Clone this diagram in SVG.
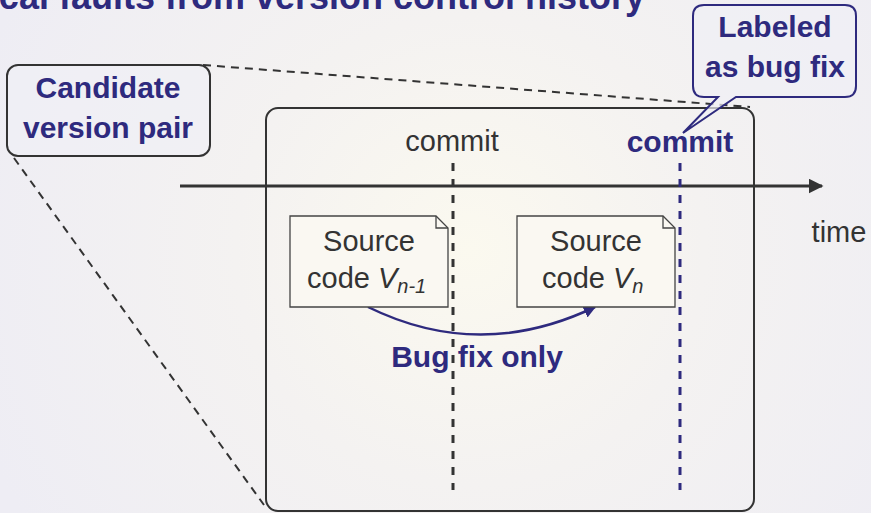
<svg xmlns="http://www.w3.org/2000/svg" width="871" height="513" viewBox="0 0 871 513">
<defs>
<radialGradient id="bg" cx="470" cy="250" r="520" gradientUnits="userSpaceOnUse">
<stop offset="0" stop-color="#fbf9ef"/>
<stop offset="0.45" stop-color="#f4f2f1"/>
<stop offset="1" stop-color="#eeedf4"/>
</radialGradient>
<marker id="ahBlack" viewBox="0 0 10 10" refX="9" refY="5" markerWidth="5" markerHeight="5" orient="auto" markerUnits="strokeWidth">
<path d="M0,0 L10,5 L0,10 Z" fill="#333"/>
</marker>
<marker id="ahBlue" viewBox="0 0 10 10" refX="9" refY="5" markerWidth="5" markerHeight="5" orient="auto" markerUnits="strokeWidth">
<path d="M0,0 L10,5 L0,10 Z" fill="#2e2a7e"/>
</marker>
<style>
.bold{font-family:"Liberation Sans",Arial,sans-serif;font-weight:bold;font-size:30px;fill:#2e2a7e}
.reg{font-family:"Liberation Sans",Arial,sans-serif;font-size:29px;fill:#333}
.doc{fill:#faf8f2;stroke:#444;stroke-width:1.3}
.zoomline{stroke:#333;stroke-width:2;stroke-dasharray:8 6;fill:none}
</style>
</defs>
<rect width="871" height="513" fill="url(#bg)"/>
<text class="bold" x="645" y="9" font-size="36" text-anchor="end" style="font-size:36px">cal faults from version control history</text>

<g id="connectors">
<line class="zoomline" x1="203" y1="65" x2="750" y2="107"/>
<line class="zoomline" x1="14" y1="158" x2="264" y2="505"/>
<line x1="180" y1="186" x2="822" y2="186" stroke="#333" stroke-width="3" marker-end="url(#ahBlack)"/>
<line x1="453" y1="163" x2="453" y2="490" stroke="#333" stroke-width="3" stroke-dasharray="8 8"/>
<line x1="680" y1="163" x2="680" y2="490" stroke="#2e2a7e" stroke-width="3" stroke-dasharray="8 8"/>
<path d="M368,307 Q480,362 595,307" fill="none" stroke="#2e2a7e" stroke-width="2.5" marker-end="url(#ahBlue)"/>
<text class="bold" x="477" y="367" text-anchor="middle">Bug fix only</text>
</g>

<g id="pair-box">
<rect x="266" y="108" width="488" height="403" rx="12" fill="none" stroke="#333" stroke-width="2"/>
</g>

<g id="commit-prev">
<text class="reg" x="452" y="151" text-anchor="middle">commit</text>
</g>
<g id="commit-fix">
<text class="bold" x="680" y="152" text-anchor="middle">commit</text>
</g>
<g id="time-label">
<text class="reg" x="839" y="242" text-anchor="middle">time</text>
</g>

<g id="source-prev">
<path class="doc" d="M290,216 H436 L448,228 V307 H290 Z"/>
<path d="M436,216 V228 H448" fill="none" stroke="#444" stroke-width="1.3"/>
<text class="reg" x="369" y="251" text-anchor="middle">Source</text>
<text class="reg" x="307" y="288">code <tspan font-style="italic">V</tspan><tspan font-style="italic" font-size="20" dy="5">n-1</tspan></text>
</g>

<g id="source-next">
<path class="doc" d="M517,216 H663 L675,228 V307 H517 Z"/>
<path d="M663,216 V228 H675" fill="none" stroke="#444" stroke-width="1.3"/>
<text class="reg" x="596" y="251" text-anchor="middle">Source</text>
<text class="reg" x="542" y="288">code <tspan font-style="italic">V</tspan><tspan font-style="italic" font-size="20" dy="5">n</tspan></text>
</g>

<g id="candidate-callout">
<rect x="7" y="65" width="203" height="91" rx="11" fill="#f0eff5" fill-opacity="0.7" stroke="#333" stroke-width="2"/>
<text class="bold" x="108" y="98" text-anchor="middle">Candidate</text>
<text class="bold" x="108" y="138" text-anchor="middle">version pair</text>
</g>

<g id="labeled-callout">
<path d="M704,5 H845 Q856,5 856,16 V86 Q856,97 845,97 H736 L683,133 L718,97 H704 Q693,97 693,86 V16 Q693,5 704,5 Z" fill="#f0eff5" fill-opacity="0.7" stroke="#2e2a7e" stroke-width="2"/>
<text class="bold" x="775" y="37" text-anchor="middle">Labeled</text>
<text class="bold" x="775" y="77" text-anchor="middle">as bug fix</text>
</g>
</svg>
